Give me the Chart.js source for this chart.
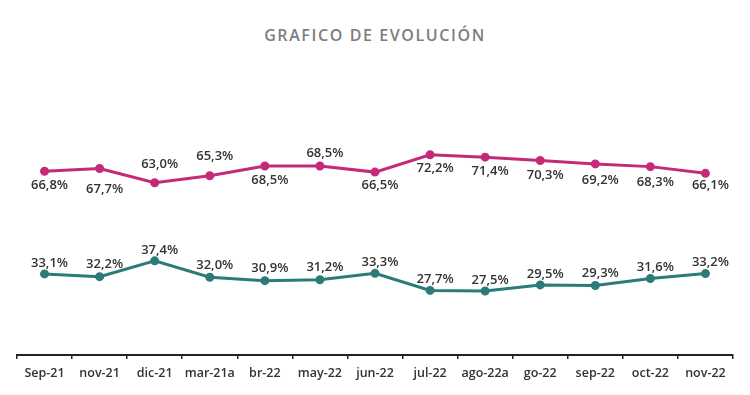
<!DOCTYPE html>
<html>
<head>
<meta charset="utf-8">
<script src="https://cdn.jsdelivr.net/npm/chart.js@4.4.1/dist/chart.umd.min.js"></script>
<style>
  html, body { margin: 0; padding: 0; background: #fff; }
  #wrap { position: relative; width: 750px; height: 395px; }
  #title {
    position: absolute; left: 0; top: 24px; width: 750px; text-align: center;
    font-family: "Open Sans", sans-serif; font-weight: 600; font-size: 16px;
    letter-spacing: 1.6px; color: #7d7d7d;
  }
  canvas { position: absolute; left: 0; top: 0; }
</style>
</head>
<body>
<div id="wrap">
  <div id="title">GRAFICO DE EVOLUCIÓN</div>
  <canvas id="chart" width="750" height="395"></canvas>
</div>
<script>
// categorías tal como aparecen en el gráfico original
const labels = ['Sep-21', 'nov-21', 'dic-21', 'mar-21a', 'br-22', 'may-22', 'jun-22',
                'jul-22', 'ago-22a', 'go-22', 'sep-22', 'oct-22', 'nov-22'];

const serieRosa = [66.8, 67.7, 63.0, 65.3, 68.5, 68.5, 66.5, 72.2, 71.4, 70.3, 69.2, 68.3, 66.1];
const serieVerde = [33.1, 32.2, 37.4, 32.0, 30.9, 31.2, 33.3, 27.7, 27.5, 29.5, 29.3, 31.6, 33.2];

// desplazamiento vertical de cada etiqueta (px, + abajo / - arriba)
const rosaLabelDy = [14, 21, -18, -19, 14, -13, 13, 14, 14, 15, 16, 16, 12];
const verdeLabelDy = [-11, -12, -11, -12, -12, -12, -11, -11, -11, -11, -12, -11, -11];

const ROSA = '#c52a78';
const VERDE = '#2b7c78';

// etiquetas de valor "66,8%"
const valueLabels = {
    id: 'valueLabels',
    afterDatasetsDraw(chart) {
        const ctx = chart.ctx;
        ctx.save();
        ctx.font = '600 13px "Open Sans", sans-serif';
        ctx.fillStyle = '#333';
        ctx.textAlign = 'center';
        ctx.textBaseline = 'middle';
        chart.data.datasets.forEach((ds, i) => {
            const meta = chart.getDatasetMeta(i);
            meta.data.forEach((pt, j) => {
                const txt = ds.data[j].toFixed(1).replace('.', ',') + '%';
                ctx.fillText(txt, pt.x + 5, pt.y + ds.labelDy[j]);
            });
        });
        ctx.restore();
    }
};

new Chart(document.getElementById('chart'), {
    type: 'line',
    data: {
        labels: labels,
        datasets: [
            {
                data: serieRosa,
                labelDy: rosaLabelDy,
                borderColor: ROSA,
                backgroundColor: ROSA,
                borderWidth: 3,
                pointRadius: 3,
                pointHoverRadius: 3,
                tension: 0
            },
            {
                data: serieVerde,
                labelDy: verdeLabelDy,
                borderColor: VERDE,
                backgroundColor: VERDE,
                borderWidth: 3,
                pointRadius: 3,
                pointHoverRadius: 3,
                tension: 0
            }
        ]
    },
    options: {
        responsive: false,
        animation: false,
        layout: { padding: { top: 70, left: 17, right: 17, bottom: 7 } },
        plugins: {
            legend: { display: false },
            tooltip: { enabled: false }
        },
        scales: {
            x: {
                offset: true,
                grid: { offset: true, drawOnChartArea: false, tickLength: 4, color: '#222', lineWidth: 1.5 },
                border: { color: '#222', width: 2 },
                ticks: {
                    padding: 7,
                    color: '#333',
                    autoSkip: false,
                    maxRotation: 0,
                    minRotation: 0,
                    font: { family: '"Open Sans", sans-serif', size: 12.5, weight: '600' }
                }
            },
            y: {
                display: false,
                min: 6.5,
                max: 100
            }
        }
    },
    plugins: [valueLabels]
});
</script>
</body>
</html>
